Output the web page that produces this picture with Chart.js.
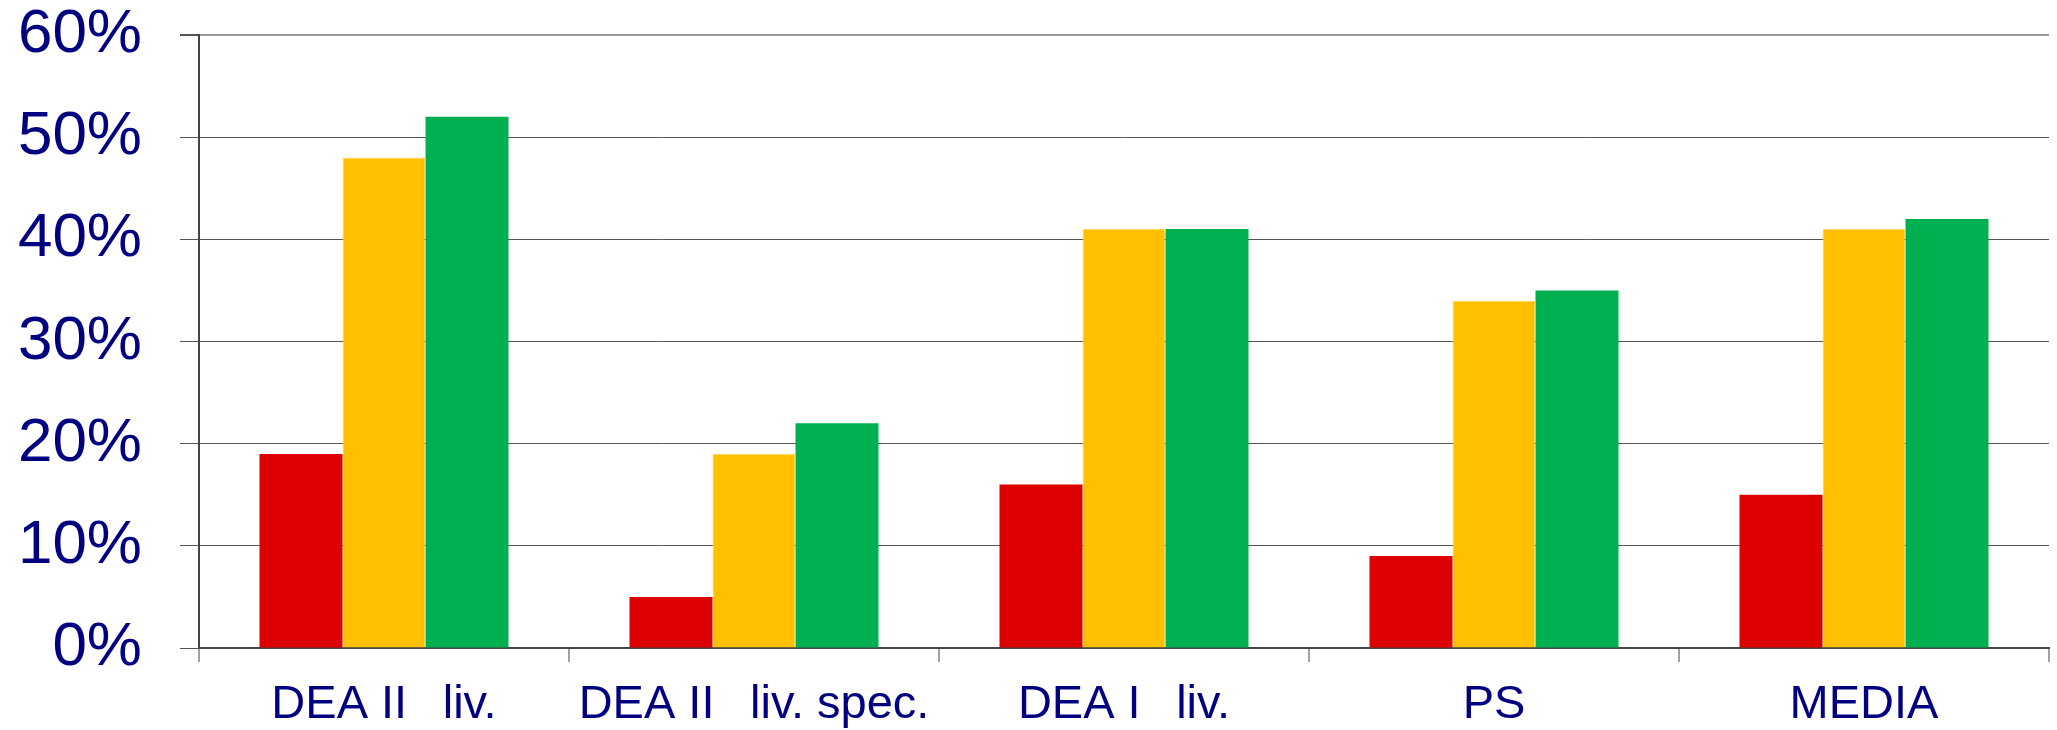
<!DOCTYPE html>
<html>
<head>
<meta charset="utf-8">
<script src="https://cdn.jsdelivr.net/npm/chart.js@4/dist/chart.umd.min.js"></script>
<style>
  body { margin: 0; background: #fff; }
  canvas { display: block; }
</style>
</head>
<body>
<canvas id="myChart" width="2057" height="730"></canvas>
<script>
'use strict';
// categories and values (percent)
const categories = ['DEA II  \u2009liv.', 'DEA II  \u2009liv. spec.', 'DEA I  \u2009liv.', 'PS', 'MEDIA'];
const redValues = [19, 5, 16, 9, 15];
const yellowValues = [48, 19, 41, 34, 41];
const greenValues = [52, 22, 41, 35, 42];
const yTicks = [0, 10, 20, 30, 40, 50, 60];

////////////////////////////////////////////////

const textColor = '#000080';
const fontFamily = '"Liberation Sans", Arial, sans-serif';

const context = document.getElementById('myChart').getContext('2d');
const chart = new Chart(context, {
  type: 'bar',
  data: {
    labels: categories,
    datasets: [
      {
        label: 'rosso',
        data: redValues,
        backgroundColor: '#DD0000',
        borderWidth: 0
      },
      {
        label: 'giallo',
        data: yellowValues,
        backgroundColor: '#FFC000',
        borderColor: '#FFD660',
        borderWidth: 1,
        borderSkipped: 'bottom'
      },
      {
        label: 'verde',
        data: greenValues,
        backgroundColor: '#00B050',
        borderWidth: 0
      }
    ]
  },
  options: {
    responsive: false,
    animation: false,
    layout: { padding: { left: 0, right: 8, top: 0, bottom: 0 } },
    plugins: {
      legend: { display: false },
      tooltip: { enabled: false }
    },
    datasets: {
      bar: { categoryPercentage: 0.673, barPercentage: 1 }
    },
    scales: {
      x: {
        afterFit: (axis) => {
          axis.height = 82;
          axis.paddingLeft = 0;
          axis.paddingRight = 0;
        },
        grid: {
          offset: true,
          drawOnChartArea: true,
          color: (ctx) => ctx.index === categories.length ? '#999999' : 'rgba(0,0,0,0)',
          lineWidth: 2,
          tickColor: '#444444',
          tickLength: 14,
          tickWidth: 1
        },
        border: { color: '#444444', width: 2 },
        ticks: {
          color: textColor,
          font: { family: fontFamily, size: 47, lineHeight: 1.2 },
          padding: 15,
          maxRotation: 0,
          autoSkip: false
        }
      },
      y: {
        min: 0,
        max: 60,
        afterBuildTicks: (axis) => { axis.ticks = yTicks.map(v => ({ value: v })); },
        afterFit: (axis) => {
          axis.width = 199;
          axis.paddingTop = 35;
          axis.paddingBottom = 0;
        },
        grid: {
          color: (ctx) => ctx.tick.value === 60 ? '#999999' : '#555555',
          lineWidth: (ctx) => ctx.tick.value === 60 ? 2 : 1,
          tickColor: '#555555',
          tickLength: 19
        },
        border: { color: '#444444', width: 2 },
        ticks: {
          color: textColor,
          font: { family: fontFamily, size: 62, lineHeight: 1 },
          padding: 38,
          callback: (v) => v + '%'
        }
      }
    }
  }
});
</script>
</body>
</html>
